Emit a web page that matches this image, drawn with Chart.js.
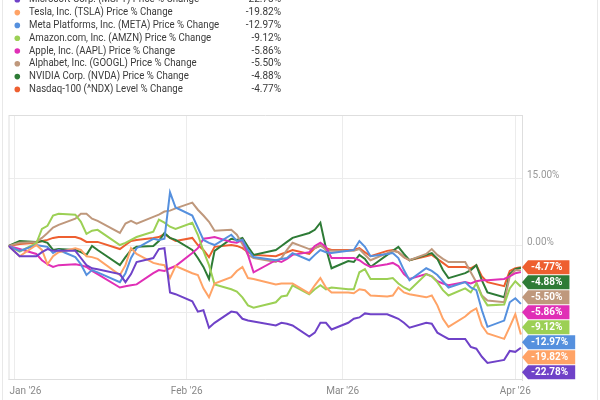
<!DOCTYPE html>
<html>
<head>
<meta charset="utf-8">
<script src="https://cdn.jsdelivr.net/npm/chart.js@4.4.1/dist/chart.umd.min.js"></script>
<style>
  html, body { margin: 0; padding: 0; background: #fff; }
  #wrap { position: relative; width: 600px; height: 400px; }
</style>
</head>
<body>
<div id="wrap"><canvas id="chart" width="600" height="400"></canvas></div>
<script>
// Trading days, base date first
const dates = [
  '2025-12-31',
  '2026-01-02', '2026-01-05', '2026-01-06', '2026-01-07', '2026-01-08', '2026-01-09',
  '2026-01-12', '2026-01-13', '2026-01-14', '2026-01-15', '2026-01-16',
  '2026-01-20', '2026-01-21', '2026-01-22', '2026-01-23',
  '2026-01-26', '2026-01-27', '2026-01-28', '2026-01-29', '2026-01-30',
  '2026-02-02', '2026-02-03', '2026-02-04', '2026-02-05', '2026-02-06',
  '2026-02-09', '2026-02-10', '2026-02-11', '2026-02-12', '2026-02-13',
  '2026-02-17', '2026-02-18', '2026-02-19', '2026-02-20',
  '2026-02-23', '2026-02-24', '2026-02-25', '2026-02-26', '2026-02-27',
  '2026-03-02', '2026-03-03', '2026-03-04', '2026-03-05', '2026-03-06',
  '2026-03-09', '2026-03-10', '2026-03-11', '2026-03-12', '2026-03-13',
  '2026-03-16', '2026-03-17', '2026-03-18', '2026-03-19', '2026-03-20',
  '2026-03-23', '2026-03-24', '2026-03-25', '2026-03-26', '2026-03-27',
  '2026-03-30', '2026-03-31', '2026-04-01', '2026-04-02'
];

const msft = [0, -2.3, -2.3, -1.4, -0.7, -1.1, -1.1, -1.1, -2.7, -4.3, -5.0, -5.2, -6.3, -8.1, -6.3, -3.6,
  -2.7, -0.7, -0.5, -10.4, -10.8, -12.4, -14.7, -14.4, -18.3, -17.2, -14.7, -14.9, -16.3, -16.7, -16.9,
  -17.8, -17.2, -17.4, -17.8, -20.3, -19.4, -17.2, -17.2, -18.7, -17.2, -16.3, -16.0, -15.1, -15.3,
  -15.3, -15.8, -16.3, -17.2, -18.3, -17.2, -17.4, -19.4, -20.1, -20.8, -20.8, -22.6, -23.0, -24.8, -26.2,
  -25.5, -23.5, -23.7, -22.78];
const tsla = [0, -2.3, 0.2, -0.9, -4.1, -2.3, -1.4, -0.5, -0.9, -2.3, -2.5, -2.9, -6.5, -4.3, -0.5, -1.8,
  -3.8, -4.1, -4.3, -7.2, -4.5, -6.1, -6.5, -9.5, -11.5, -8.4, -7.0, -5.6, -4.7, -7.2, -7.4,
  -8.6, -8.4, -8.4, -8.4, -10.6, -8.8, -7.2, -9.3, -10.4, -10.4, -10.6, -9.7, -9.9, -11.1,
  -11.3, -11.1, -9.3, -10.4, -10.8, -11.5, -11.1, -13.3, -16.3, -18.1, -15.8, -14.7, -14.0, -17.8, -19.6,
  -20.8, -18.1, -15.3, -19.82];
const meta = [0, -1.1, 0.2, 0, -0.2, -1.6, -0.9, -2.5, -4.1, -6.5, -5.4, -5.9, -8.1, -6.1, -2.7, -0.5,
  1.6, 1.35, 1.6, 12.0, 8.6, 6.8, 4.1, 1.35, 0.7, 0.2, 2.5, 1.1, 1.35, -0.9, -2.5,
  -3.2, -2.9, -2.7, -1.6, -3.2, -2.0, -0.9, -1.4, -1.6, -1.1, -0.9, 1.1, -0.2, -2.3,
  -1.8, -1.6, -2.7, -5.4, -7.7, -5.0, -5.6, -6.5, -7.9, -9.3, -8.1, -9.3, -9.9, -14.4, -18.1,
  -16.7, -12.6, -11.7, -12.97];
const amzn = [0, -1.3, 0.6, 3.8, 4.5, 6.8, 7.2, 7.0, 5.4, 2.7, 3.4, 3.6, 0.2, 0.7, 1.35, 2.0,
  3.2, 5.9, 5.2, 4.3, 3.8, 5.2, 2.5, -1.1, -4.3, -8.6, -9.7, -10.2, -11.5, -13.3, -13.8,
  -12.6, -11.3, -11.1, -8.8, -10.8, -9.7, -8.8, -9.7, -9.3, -9.7, -9.7, -5.9, -5.2, -7.4,
  -7.4, -7.2, -8.4, -9.3, -9.9, -6.3, -6.8, -8.1, -9.9, -11.1, -9.5, -10.4, -8.4, -11.3, -13.3,
  -13.1, -9.5, -7.9, -9.12];
const aapl = [0, -0.7, -1.8, -3.2, -4.1, -4.7, -4.3, -4.1, -4.3, -4.7, -5.6, -6.3, -9.3, -9.0, -8.8, -8.6,
  -6.1, -5.4, -5.6, -5.0, -4.5, -1.6, -0.5, 1.6, 1.8, 2.0, 0.9, 0.7, 1.35, -2.0, -5.9,
  -3.2, -3.6, -2.9, -2.0, -1.4, 0, 0.7, -0.2, -2.7, -2.7, -2.7, -3.2, -4.1, -4.7,
  -4.1, -3.8, -4.5, -6.3, -7.4, -6.3, -6.8, -7.9, -8.4, -8.8, -8.1, -8.4, -7.9, -7.7, -7.7,
  -7.4, -6.8, -6.1, -5.86];
const googl = [0, 0.7, 0.9, 1.8, 2.9, 4.1, 4.7, 6.1, 7.2, 7.2, 6.1, 5.6, 2.9, 5.0, 5.6, 5.0,
  6.5, 7.0, 7.7, 7.9, 8.4, 9.7, 8.1, 6.8, 5.4, 3.4, 3.6, 2.5, 0.4, -2.0, -2.7,
  -3.6, -2.7, -0.9, 0.7, -0.7, -0.5, 0.2, -0.9, -1.1, -1.1, -1.1, -0.7, -2.0, -3.2,
  -1.6, -1.1, -1.4, -2.5, -3.2, -1.8, -0.7, -2.0, -2.9, -3.6, -3.6, -5.9, -8.1, -11.1, -12.2,
  -12.6, -6.8, -5.4, -5.50];
const nvda = [0, 1.1, 0.9, 1.1, 0.7, -0.9, -0.7, -0.9, -1.4, -2.0, 0, -0.9, -4.3, -2.5, -0.9, -0.2,
  0, 1.1, 2.9, 1.8, 1.35, -0.9, -2.7, -4.7, -7.4, -1.1, 1.6, 1.35, 1.8, -0.2, -2.0,
  -0.9, 0, 0.9, 1.8, 2.9, 3.6, 5.2, -0.5, -5.0, -3.4, -3.6, -2.0, -2.9, -4.7,
  -2.0, -1.1, -0.2, -1.8, -3.2, -2.0, -1.6, -2.9, -5.4, -7.2, -6.1, -5.4, -4.3, -7.7, -10.4,
  -11.5, -6.3, -5.2, -4.88];
const ndx = [0, 0.45, 0.7, 1.1, 1.35, 1.8, 2.0, 2.0, 1.6, 0.9, 0.9, 0.9, -0.7, 0.2, 1.1, 1.35,
  1.8, 2.0, 2.7, 1.8, 1.1, 1.8, 0.2, -0.9, -2.5, -0.2, 0.2, 0, -0.5, -1.4, -2.0,
  -2.3, -1.8, -1.4, -0.9, -1.8, -0.5, 0, -0.5, -0.9, -0.9, -0.9, -0.5, -1.4, -2.3,
  -1.1, -0.9, -1.4, -2.5, -3.2, -2.3, -2.0, -2.9, -3.8, -4.7, -4.7, -5.0, -4.3, -6.8, -8.1,
  -9.0, -5.6, -5.0, -4.77];

const seriesNames = [
  'Microsoft Corp. (MSFT) Price % Change',
  'Tesla, Inc. (TSLA) Price % Change',
  'Meta Platforms, Inc. (META) Price % Change',
  'Amazon.com, Inc. (AMZN) Price % Change',
  'Apple, Inc. (AAPL) Price % Change',
  'Alphabet, Inc. (GOOGL) Price % Change',
  'NVIDIA Corp. (NVDA) Price % Change',
  'Nasdaq-100 (^NDX) Level % Change'
];
const seriesValues = [msft, tsla, meta, amzn, aapl, googl, nvda, ndx];

const monthTicks = ['2026-01-01', '2026-02-01', '2026-03-01', '2026-04-01'];
const monthLabels = ["Jan '26", "Feb '26", "Mar '26", "Apr '26"];
const yGridTicks = [15, 0, -15];
const yLabelTicks = [15, 0];

// Styles
const seriesColors = ['#6f42c8', '#ffa366', '#5590de', '#9cd055', '#e02fb6', '#bf987c', '#2e7b36', '#ee5f30'];
const FONT = 'Roboto, "Noto Sans", sans-serif';

function dayNum(s) {
  const [y, m, d] = s.split('-').map(Number);
  return (Date.UTC(y, m - 1, d) - Date.UTC(2026, 0, 1)) / 86400000;
}

function fmtPct(v) {
  return v.toFixed(2) + '%';
}

// Frame around the plot and the outer card edges
const framePlugin = {
  id: 'frame',
  beforeDatasetsDraw(chart) {
    const { ctx, chartArea: a } = chart;
    ctx.save();
    ctx.strokeStyle = '#dedede';
    ctx.lineWidth = 1;
    ctx.beginPath();
    ctx.moveTo(a.left + 0.5, a.top + 0.5);
    ctx.lineTo(a.right, a.top + 0.5);
    ctx.moveTo(a.left + 0.5, a.top);
    ctx.lineTo(a.left + 0.5, a.bottom);
    ctx.moveTo(a.left, a.bottom - 0.5);
    ctx.lineTo(a.right, a.bottom - 0.5);
    ctx.stroke();
    ctx.strokeStyle = '#e8e8e8';
    ctx.beginPath();
    ctx.moveTo(2.5, 0);
    ctx.lineTo(2.5, chart.height);
    ctx.moveTo(597.5, 0);
    ctx.lineTo(597.5, chart.height);
    ctx.stroke();
    ctx.restore();
  }
};

// Legend block at the top: dot, name, last value
const legendPlugin = {
  id: 'topLegend',
  afterDraw(chart) {
    const { ctx } = chart;
    ctx.save();
    ctx.font = '10px ' + FONT;
    ctx.textBaseline = 'middle';
    chart.data.datasets.forEach((ds, i) => {
      const y = -0.2 + 12.8 * i;
      ctx.fillStyle = ds.borderColor;
      ctx.beginPath();
      ctx.arc(17.3, y, 2.8, 0, Math.PI * 2);
      ctx.fill();
      ctx.fillStyle = '#3a3a3a';
      ctx.textAlign = 'left';
      // names are set a touch narrower than plain Roboto
      ctx.save();
      ctx.translate(29, y);
      ctx.scale(0.965, 1);
      ctx.fillText(ds.label, 0, 0);
      ctx.restore();
      ctx.textAlign = 'right';
      ctx.fillText(fmtPct(ds.data[ds.data.length - 1].y), 281, y);
    });
    ctx.restore();
  }
};

// Month labels, kept inside the plot's left edge
const xLabelPlugin = {
  id: 'xLabels',
  afterDraw(chart) {
    const { ctx, chartArea: a } = chart;
    const xs = chart.scales.x;
    ctx.save();
    ctx.font = '10px ' + FONT;
    ctx.fillStyle = '#888';
    ctx.textAlign = 'center';
    ctx.textBaseline = 'middle';
    monthTicks.forEach((m, i) => {
      const w = ctx.measureText(monthLabels[i]).width;
      const px = Math.max(xs.getPixelForValue(dayNum(m)), a.left + w / 2 + 1);
      ctx.fillText(monthLabels[i], px, 391);
    });
    ctx.restore();
  }
};

// End-value tags on the right, stacked so they don't overlap
const tagPlugin = {
  id: 'endTags',
  afterDraw(chart) {
    const { ctx, chartArea: a } = chart;
    const ys = chart.scales.y;
    const items = chart.data.datasets.map(ds => ({
      color: ds.borderColor,
      value: ds.data[ds.data.length - 1].y
    })).sort((p, q) => q.value - p.value);
    ctx.save();
    ctx.font = 'bold 10px ' + FONT;
    ctx.textBaseline = 'middle';
    ctx.textAlign = 'left';
    let prev = -Infinity;
    items.forEach(it => {
      const y = Math.max(ys.getPixelForValue(it.value), prev + 15);
      prev = y;
      const txt = fmtPct(it.value);
      const w = ctx.measureText(txt).width;
      const tip = a.right;
      const x0 = tip + 6;
      const x1 = x0 + 3 + w + 7;
      ctx.fillStyle = it.color;
      ctx.beginPath();
      ctx.moveTo(tip, y);
      ctx.lineTo(x0, y - 7);
      ctx.lineTo(x1, y - 7);
      ctx.lineTo(x1, y + 7);
      ctx.lineTo(x0, y + 7);
      ctx.closePath();
      ctx.fill();
      ctx.fillStyle = '#fff';
      ctx.fillText(txt, x0 + 3, y + 0.5);
    });
    ctx.restore();
  }
};

const ctx = document.getElementById('chart').getContext('2d');
new Chart(ctx, {
  type: 'line',
  data: {
    datasets: seriesValues.map((vals, i) => ({
      label: seriesNames[i],
      data: dates.map((d, j) => ({ x: dayNum(d), y: vals[j] })),
      borderColor: seriesColors[i],
      backgroundColor: seriesColors[i],
      borderWidth: 2,
      pointRadius: 0,
      tension: 0,
      fill: false
    }))
  },
  options: {
    responsive: false,
    animation: false,
    layout: { padding: { left: 8.5, top: 115, right: 0, bottom: 0 } },
    plugins: {
      legend: { display: false },
      tooltip: { enabled: false }
    },
    scales: {
      x: {
        type: 'linear',
        min: -1,
        max: 91.2,
        afterBuildTicks: s => { s.ticks = monthTicks.map(m => ({ value: dayNum(m) })); },
        afterFit: s => { s.height = 20; },
        grid: { color: '#ececec', drawTicks: false },
        border: { display: false },
        ticks: { display: false }
      },
      y: {
        position: 'right',
        min: -30,
        max: 29.3,
        afterBuildTicks: s => { s.ticks = yGridTicks.map(v => ({ value: v })); },
        afterFit: s => { s.width = 78; },
        grid: { color: '#ececec', drawTicks: false },
        border: { display: true, color: '#dedede' },
        ticks: {
          callback: v => yLabelTicks.includes(v) ? fmtPct(v) : '',
          color: '#999',
          font: { family: FONT, size: 10 },
          padding: 5,
          labelOffset: -3
        }
      }
    }
  },
  plugins: [framePlugin, legendPlugin, xLabelPlugin, tagPlugin]
});
</script>
</body>
</html>
